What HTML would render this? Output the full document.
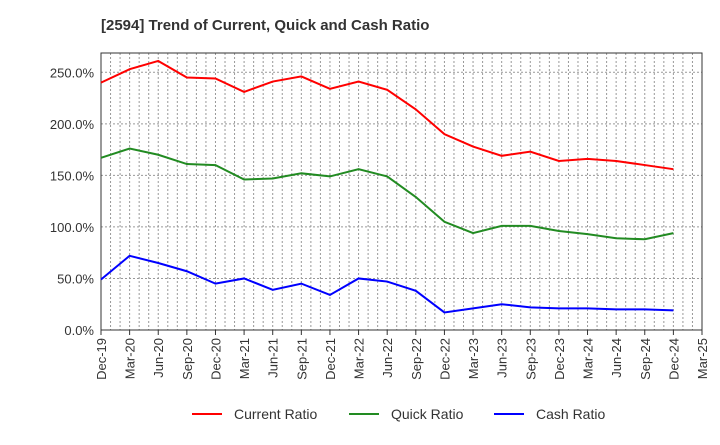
<!DOCTYPE html>
<html><head><meta charset="utf-8"><style>
body{margin:0;background:#fff;font-family:"Liberation Sans",sans-serif}
</style></head><body>
<svg id="c" width="720" height="440" xmlns="http://www.w3.org/2000/svg">
<text x="101" y="30" font-size="15" font-weight="bold" fill="#333">[2594]  Trend of Current, Quick and Cash Ratio</text>
<g id="grid"></g><g id="axes"></g><g id="lines"></g>
<g>
<line x1="192" y1="414" x2="222" y2="414" stroke="#f00" stroke-width="2"/><text x="234" y="419" font-size="14" fill="#333">Current Ratio</text>
<line x1="349" y1="414" x2="379" y2="414" stroke="#228b22" stroke-width="2"/><text x="391" y="419" font-size="14" fill="#333">Quick Ratio</text>
<line x1="494" y1="414" x2="524" y2="414" stroke="#00f" stroke-width="2"/><text x="536" y="419" font-size="14" fill="#333">Cash Ratio</text>
</g>
</svg>
<script>
const categories=["Dec-19","Mar-20","Jun-20","Sep-20","Dec-20","Mar-21","Jun-21","Sep-21","Dec-21","Mar-22","Jun-22","Sep-22","Dec-22","Mar-23","Jun-23","Sep-23","Dec-23","Mar-24","Jun-24","Sep-24","Dec-24","Mar-25"];
const currentRatio=[240,253,261,245,244,231,241,246,234,241,233,214,190,178,169,173,164,166,164,160,156];
const quickRatio=[167,176,170,161,160,146,147,152,149,156,149,129,105,94,101,101,96,93,89,88,94];
const cashRatio=[49,72,65,57,45,50,39,45,34,50,47,38,17,21,25,22,21,21,20,20,19];
const yTicks=[0,50,100,150,200,250];
const L=101,R=702,T=53,B=330;
const x=i=>L+i*(R-L)/(categories.length-1);
const y=v=>B-v*(B-72.3)/250;
const NS="http://www.w3.org/2000/svg";
function mk(p,t,a){const e=document.createElementNS(NS,t);for(const k in a)e.setAttribute(k,a[k]);p.appendChild(e);return e;}
const g=document.getElementById('grid'),ax=document.getElementById('axes'),ln=document.getElementById('lines');
for(let m=1;m<(categories.length-1)*3;m++){const xx=L+m*(R-L)/((categories.length-1)*3);
const l=mk(g,'line',{x1:xx,x2:xx,y1:T,y2:B,stroke:'#999','stroke-dasharray':'2,2','stroke-width':1});

}
yTicks.forEach(v=>{if(v>0){const l=mk(g,'line',{x1:L,x2:R,y1:y(v),y2:y(v),stroke:'#999','stroke-dasharray':'2,2'});

}
const t=mk(ax,'text',{x:L-7,y:y(v)+5,'font-size':13,fill:'#333','text-anchor':'end'});t.textContent=v.toFixed(1)+'%';

});
mk(ax,'rect',{x:L,y:T,width:R-L,height:B-T,fill:'none',stroke:'#333','stroke-width':1});
categories.forEach((c,i)=>{mk(ax,'line',{x1:x(i),x2:x(i),y1:B,y2:B+5,stroke:'#333'});
const t=mk(ax,'text',{transform:`translate(${x(i)+5},${B+8}) rotate(-90)`,'font-size':13,fill:'#333','text-anchor':'end'});t.textContent=c;

});
[[currentRatio,'#f00','current-ratio-line'],[quickRatio,'#228b22','quick-ratio-line'],[cashRatio,'#00f','cash-ratio-line']].forEach(([d,col,n])=>{
const p=mk(ln,'polyline',{points:d.map((v,i)=>x(i)+','+y(v)).join(' '),fill:'none',stroke:col,'stroke-width':2});

});
</script>
</body></html>
